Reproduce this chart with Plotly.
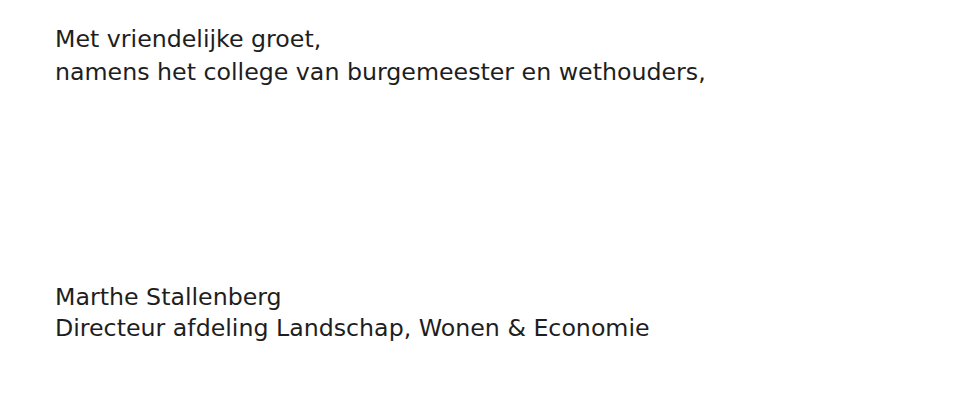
import plotly.graph_objects as go

# Text content of the letter closing (the handwritten signature is intentionally not reproduced)
text_lines = [
    "Met vriendelijke groet,",
    "namens het college van burgemeester en wethouders,",
    "Marthe Stallenberg",
    "Directeur afdeling Landschap, Wonen & Economie",
]
line_x = [45, 45, 45, 45]
line_y = [31, 64, 288.5, 319.5]

fig = go.Figure()

for t, x, y in zip(text_lines, line_x, line_y):
    fig.add_annotation(
        x=x, y=y, text=t, showarrow=False,
        xref="x", yref="y", xanchor="left", yanchor="middle",
        font=dict(family="DejaVu Sans", size=23.7, color="#1e1e1e"),
    )

fig.update_xaxes(range=[0, 973], visible=False, fixedrange=True)
fig.update_yaxes(range=[405, 0], visible=False, fixedrange=True)
fig.update_layout(
    width=973, height=405,
    margin=dict(l=0, r=0, t=0, b=0),
    paper_bgcolor="white", plot_bgcolor="white",
    showlegend=False,
)

fig.write_html("out.html")
